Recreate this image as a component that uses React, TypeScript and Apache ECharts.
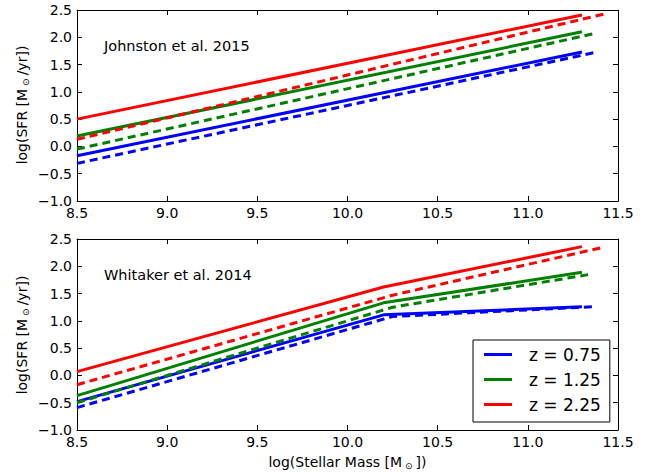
import React, { useEffect, useRef } from "react";
import * as echarts from "echarts";

const FONT = "DejaVu Sans";

const xTicks = [8.5, 9.0, 9.5, 10.0, 10.5, 11.0, 11.5];
const yTicks = [-1.0, -0.5, 0.0, 0.5, 1.0, 1.5, 2.0, 2.5];

const seriesLabels = ["z = 0.75", "z = 1.25", "z = 2.25"];
const seriesColors = ["#0000ff", "#008000", "#ff0000"];

// Johnston et al. 2015 (top panel)
const johnstonSolidMass = [8.5, 11.3];
const johnstonSolid075 = [-0.17, 1.73];
const johnstonSolid125 = [0.19, 2.1];
const johnstonSolid225 = [0.5, 2.41];
const johnstonDashedMass075 = [8.5, 11.37];
const johnstonDashed075 = [-0.31, 1.72];
const johnstonDashedMass125 = [8.5, 11.37];
const johnstonDashed125 = [-0.05, 2.07];
const johnstonDashedMass225 = [8.5, 11.44];
const johnstonDashed225 = [0.13, 2.44];

// Whitaker et al. 2014 (bottom panel)
const whitakerSolidMass = [8.5, 10.2, 11.3];
const whitakerSolid075 = [-0.48, 1.11, 1.26];
const whitakerSolid125 = [-0.37, 1.33, 1.89];
const whitakerSolid225 = [0.07, 1.62, 2.36];
const whitakerDashedMass075 = [8.5, 10.25, 11.37];
const whitakerDashed075 = [-0.59, 1.08, 1.26];
const whitakerDashedMass125 = [8.5, 10.25, 11.34];
const whitakerDashed125 = [-0.5, 1.25, 1.85];
const whitakerDashedMass225 = [8.5, 10.25, 11.42];
const whitakerDashed225 = [-0.17, 1.47, 2.35];

const fmt = (v: number) => v.toFixed(1).replace("-", "\u2212");

export default function App() {
  const ref = useRef<HTMLDivElement>(null);
  useEffect(() => {
    if (!ref.current) return;
    const chart = echarts.init(ref.current, null, { renderer: "svg" });

    const grids = [
      { left: 77, top: 10, width: 541, height: 191 },
      { left: 77, top: 239, width: 541, height: 191 },
    ];

    const xMin = xTicks[0];
    const xMax = xTicks[xTicks.length - 1];
    const yMin = yTicks[0];
    const yMax = yTicks[yTicks.length - 1];

    const axisLine = { show: true, onZero: false, lineStyle: { color: "#000", width: 1 } };
    const tick = { show: true, inside: true, length: 5, lineStyle: { color: "#000", width: 1 } };
    const label = { color: "#000", fontFamily: FONT, fontSize: 14 };

    const xAxes: any[] = [];
    const yAxes: any[] = [];
    [0, 1].forEach((g) => {
      xAxes.push({
        type: "value", gridIndex: g, position: "bottom", min: xMin, max: xMax, interval: 0.5,
        axisLine, axisTick: tick, splitLine: { show: false },
        axisLabel: { ...label, margin: 5, formatter: fmt, showMinLabel: true, showMaxLabel: true },
      });
      xAxes.push({
        type: "value", gridIndex: g, position: "top", min: xMin, max: xMax, interval: 0.5,
        axisLine, axisTick: tick, splitLine: { show: false }, axisLabel: { show: false },
      });
      yAxes.push({
        type: "value", gridIndex: g, position: "left", min: yMin, max: yMax, interval: 0.5,
        axisLine, axisTick: tick, splitLine: { show: false },
        axisLabel: { ...label, margin: 5, formatter: fmt, showMinLabel: true, showMaxLabel: true },
      });
      yAxes.push({
        type: "value", gridIndex: g, position: "right", min: yMin, max: yMax, interval: 0.5,
        axisLine, axisTick: tick, splitLine: { show: false }, axisLabel: { show: false },
      });
    });

    const pairs = (xs: number[], ys: number[]) => xs.map((x, i) => [x, ys[i]]);
    const mk = (name: string, color: string, xs: number[], ys: number[], panel: number, dashed: boolean) => ({
      type: "line",
      name,
      xAxisIndex: panel * 2,
      yAxisIndex: panel * 2,
      data: pairs(xs, ys),
      showSymbol: false,
      symbol: "none",
      silent: true,
      lineStyle: { color, width: 3, type: dashed ? [8, 5] : "solid", cap: "butt" },
      itemStyle: { color },
    });

    const series = [
      mk(seriesLabels[0], seriesColors[0], whitakerSolidMass, whitakerSolid075, 1, false),
      mk(seriesLabels[1], seriesColors[1], whitakerSolidMass, whitakerSolid125, 1, false),
      mk(seriesLabels[2], seriesColors[2], whitakerSolidMass, whitakerSolid225, 1, false),
      mk(seriesLabels[0], seriesColors[0], whitakerDashedMass075, whitakerDashed075, 1, true),
      mk(seriesLabels[1], seriesColors[1], whitakerDashedMass125, whitakerDashed125, 1, true),
      mk(seriesLabels[2], seriesColors[2], whitakerDashedMass225, whitakerDashed225, 1, true),
      mk(seriesLabels[0], seriesColors[0], johnstonSolidMass, johnstonSolid075, 0, false),
      mk(seriesLabels[1], seriesColors[1], johnstonSolidMass, johnstonSolid125, 0, false),
      mk(seriesLabels[2], seriesColors[2], johnstonSolidMass, johnstonSolid225, 0, false),
      mk(seriesLabels[0], seriesColors[0], johnstonDashedMass075, johnstonDashed075, 0, true),
      mk(seriesLabels[1], seriesColors[1], johnstonDashedMass125, johnstonDashed125, 0, true),
      mk(seriesLabels[2], seriesColors[2], johnstonDashedMass225, johnstonDashed225, 0, true),
    ];

    const nameRich = {
      s: { fontFamily: FONT, fontSize: 9, lineHeight: 9, verticalAlign: "bottom", padding: [0, 3, 0, 3], fill: "#000" },
    };

    chart.setOption({
      animation: false,
      backgroundColor: "#fff",
      grid: grids,
      xAxis: xAxes,
      yAxis: yAxes,
      legend: {
        data: seriesLabels,
        orient: "vertical",
        left: 473,
        top: 340,
        padding: [6, 9, 9, 11],
        itemWidth: 28,
        itemHeight: 3,
        itemGap: 8,
        icon: "rect",
        selectedMode: false,
        borderColor: "#000",
        borderWidth: 1,
        borderRadius: 0,
        backgroundColor: "#fff",
        textStyle: { fontFamily: FONT, fontSize: 17, color: "#000", lineHeight: 17, padding: [0, 0, 0, 12] },
      },
      graphic: [
        {
          type: "text", left: 104, top: 38,
          style: { text: "Johnston et al. 2015", font: `14.5px "${FONT}"`, fill: "#000" },
        },
        {
          type: "text", left: 104, top: 267,
          style: { text: "Whitaker et al. 2014", font: `14.5px "${FONT}"`, fill: "#000" },
        },
        {
          type: "text", x: 22, y: 105, rotation: Math.PI / 2,
          style: {
            text: "log(SFR [M{s|\u2299}/yr])", fontFamily: FONT, fontSize: 14, lineHeight: 17,
            fill: "#000", align: "center", verticalAlign: "middle", rich: nameRich,
          },
        },
        {
          type: "text", x: 22, y: 335, rotation: Math.PI / 2,
          style: {
            text: "log(SFR [M{s|\u2299}/yr])", fontFamily: FONT, fontSize: 14, lineHeight: 17,
            fill: "#000", align: "center", verticalAlign: "middle", rich: nameRich,
          },
        },
        {
          type: "text", x: 347.5, y: 462,
          style: {
            text: "log(Stellar Mass [M{s|\u2299}])", fontFamily: FONT, fontSize: 14, lineHeight: 17,
            fill: "#000", align: "center", verticalAlign: "middle", rich: nameRich,
          },
        },
      ],
      series,
    });
    return () => chart.dispose();
  }, []);
  return <div ref={ref} style={{ position: "fixed", left: 0, top: 0, width: 656, height: 475 }} />;
}
